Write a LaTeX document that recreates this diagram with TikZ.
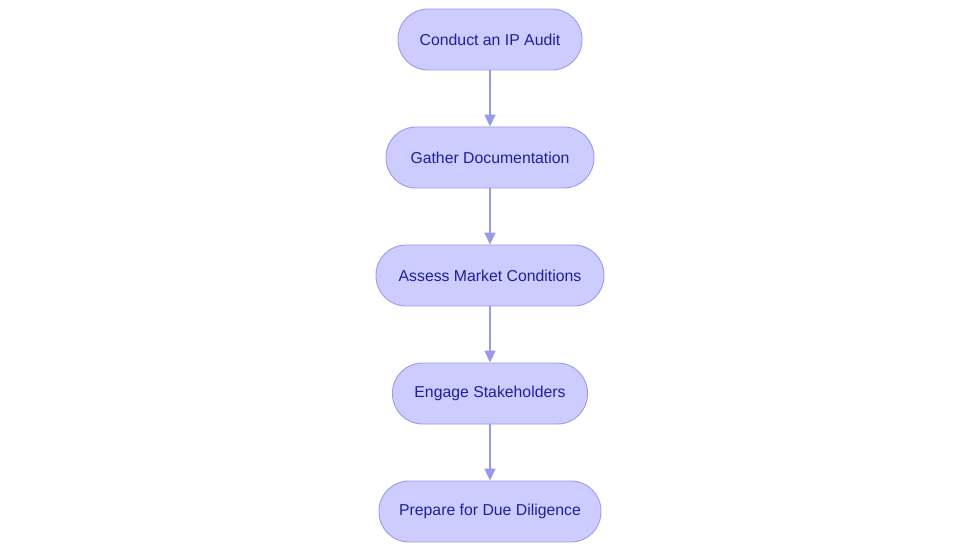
\documentclass[tikz,border=0pt]{standalone}
\usepackage{fontspec}
\setmainfont{Liberation Sans}
\usetikzlibrary{
    arrows.meta,
    positioning
}
\definecolor{boxfill}{HTML}{CCCCFF}
\definecolor{boxline}{HTML}{9B9BE6}
\definecolor{boxtext}{HTML}{1F1F99}
\definecolor{arrowcol}{HTML}{9999EA}

\begin{document}
\begin{tikzpicture}[x=1pt,y=-1pt,
    stepbox/.style={draw=boxline, fill=boxfill, line width=0.9pt,
        rounded corners=30pt, minimum height=61pt, inner sep=0pt,
        text=boxtext, font=\fontsize{15.8}{18}\selectfont},
    link/.style={draw=arrowcol, line width=1.6pt,
        -{Triangle[width=11pt,length=12pt]}}
]
\useasboundingbox (0,0) rectangle (980,553);

% Steps
\node[stepbox, minimum width=184pt] (audit) at (490,39.5) {Conduct an IP Audit};
\node[stepbox, minimum width=208pt, below=56.1pt of audit] (docs) {Gather Documentation};
\node[stepbox, minimum width=228pt, below=56.1pt of docs] (market) {Assess Market Conditions};
\node[stepbox, minimum width=195pt, below=56.1pt of market] (stake) {Engage Stakeholders};
\node[stepbox, minimum width=222pt, below=56.1pt of stake] (diligence) {Prepare for Due Diligence};

% Arrows
\draw[link] (audit) -- (docs);
\draw[link] (docs) -- (market);
\draw[link] (market) -- (stake);
\draw[link] (stake) -- (diligence);

\end{tikzpicture}
\end{document}
